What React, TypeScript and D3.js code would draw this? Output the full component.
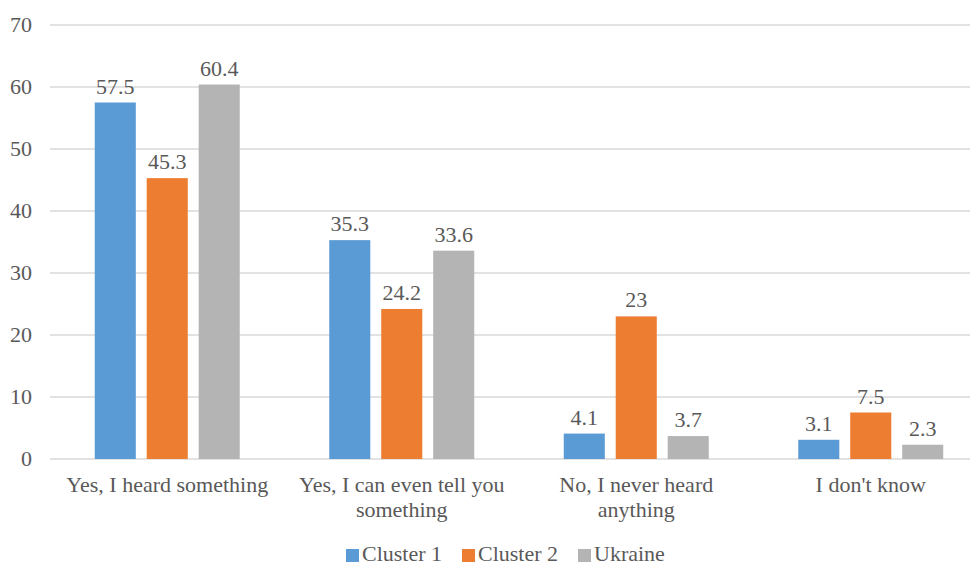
import React from "react";
import * as d3 from "d3";

const categories = [
  ["Yes, I heard something"],
  ["Yes, I can even tell you", "something"],
  ["No, I never heard", "anything"],
  ["I don't know"],
];
const seriesNames = ["Cluster 1", "Cluster 2", "Ukraine"];
const cluster1 = [57.5, 35.3, 4.1, 3.1];
const cluster2 = [45.3, 24.2, 23, 7.5];
const ukraine = [60.4, 33.6, 3.7, 2.3];
const yTicks = [0, 10, 20, 30, 40, 50, 60, 70];
const colors = ["#5b9bd5", "#ed7d31", "#b4b4b4"];
const fontName = "Liberation Serif";

const W = 978;
const H = 567;

export default function App() {
  const values = [cluster1, cluster2, ukraine];
  const catIdx = categories.map((_, i) => String(i));
  const x0 = d3.scaleBand().domain(catIdx).range([50, 988]).paddingInner(0.3817).paddingOuter(0.19085);
  const x1 = d3.scaleBand().domain(seriesNames).range([0, x0.bandwidth()]).paddingInner(0.21).paddingOuter(0);
  const y = d3.scaleLinear().domain([0, 70]).range([459, 25]);
  const ts = { fontFamily: `"${fontName}"`, fontSize: "22px" };

  return (
    <div style={{ margin: "-8px" }}>
      <svg width={W} height={H}>
        <rect width={W} height={H} fill="#fff" />
        {yTicks.map((t) => (
          <line key={t} x1={50} x2={W} y1={y(t)} y2={y(t)} stroke="#d9d9d9" strokeWidth={1.5} />
        ))}
        {catIdx.map((c, ci) =>
          seriesNames.map((s, si) => {
            const v = values[si][ci];
            return (
              <rect
                key={c + s}
                x={x0(c)! + x1(s)!}
                y={y(v)}
                width={x1.bandwidth()}
                height={y(0) - y(v)}
                fill={colors[si]}
              />
            );
          })
        )}
        {seriesNames.map((s, si) => (
          <rect key={s} x={[346, 462, 578][si]} y={549} width={13} height={13} fill={colors[si]} />
        ))}
        <g fill="#595959">
          {yTicks.map((t) => (
            <text key={t} x={32} y={y(t) + 7} textAnchor="end" style={ts}>
              {t}
            </text>
          ))}
          {catIdx.map((c, ci) =>
            seriesNames.map((s, si) => {
              const v = values[si][ci];
              return (
                <text key={c + s} x={x0(c)! + x1(s)! + x1.bandwidth() / 2} y={y(v) - 9} textAnchor="middle" style={ts}>
                  {String(v)}
                </text>
              );
            })
          )}
          {catIdx.map((c, ci) =>
            categories[ci].map((line, li) => (
              <text key={c + li} x={x0(c)! + x0.bandwidth() / 2} y={492 + li * 25} textAnchor="middle" style={ts}>
                {line}
              </text>
            ))
          )}
          {seriesNames.map((s, si) => (
            <text key={s} x={[346, 462, 578][si] + 16} y={561} style={ts}>
              {s}
            </text>
          ))}
        </g>
      </svg>
    </div>
  );
}
